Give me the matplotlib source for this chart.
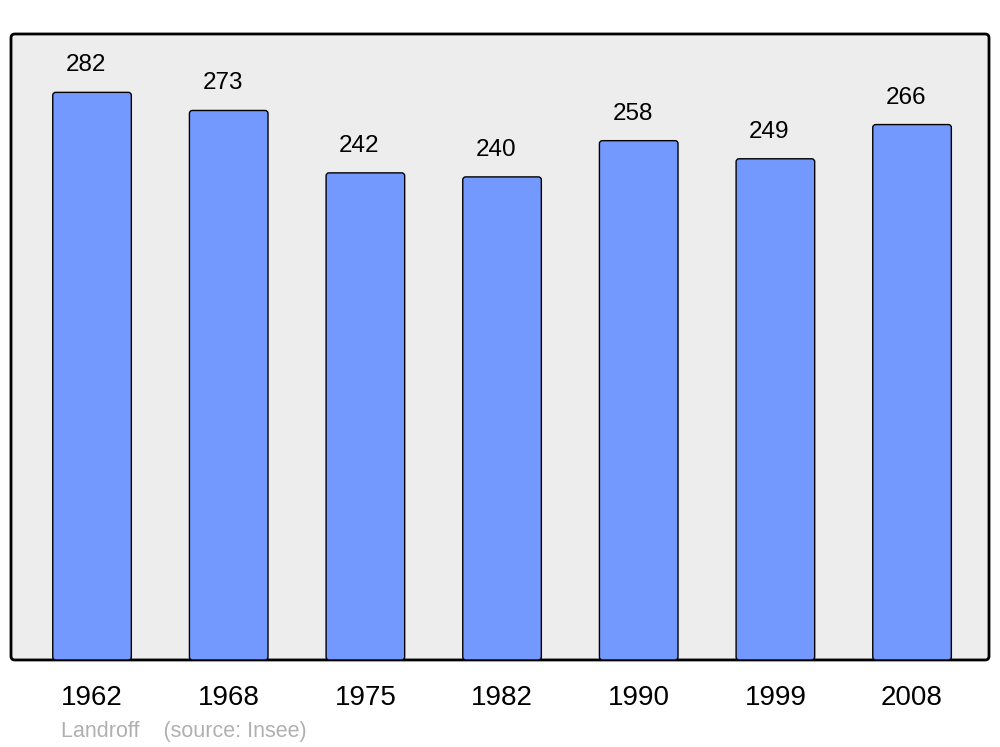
import matplotlib.pyplot as plt
from matplotlib.patches import FancyBboxPatch

plt.rcParams['font.family'] = ['Liberation Sans', 'DejaVu Sans']

years = ['1962', '1968', '1975', '1982', '1990', '1999', '2008']
population = [282, 273, 242, 240, 258, 249, 266]
footer = 'Landroff    (source: Insee)'

fig = plt.figure(figsize=(10, 7.47), dpi=100)
ax = fig.add_axes([0.011, 0.1165, 0.978, 0.838])
ax.set_xlim(-0.593, 6.563)
ax.set_ylim(0, 311)
ax.set_facecolor('none')
for s in ax.spines.values():
    s.set_visible(False)

# rounded background frame
frame = FancyBboxPatch((0, 0), 1, 1, boxstyle='round,pad=0,rounding_size=0.004',
                       mutation_aspect=978 / 626, transform=ax.transAxes,
                       facecolor='#ededed', edgecolor='black', linewidth=2,
                       zorder=0, clip_on=False)
ax.add_patch(frame)

x = range(len(years))
bars = ax.bar(x, population, width=0.575, color='#7399ff', edgecolor='black', linewidth=1)

# swap plain rectangles for slightly rounded ones
px_x = 978 / (6.563 + 0.593)
px_y = 626 / 311
for b in bars:
    b.set_visible(False)
    rb = FancyBboxPatch((b.get_x(), b.get_y()), b.get_width(), b.get_height(),
                        boxstyle='round,pad=0,rounding_size=%f' % (3 / px_x),
                        mutation_aspect=px_x / px_y,
                        facecolor='#7399ff', edgecolor='black', linewidth=1, zorder=2)
    ax.add_patch(rb)

# value labels sit a little left of centre, as in the original
for i, v in enumerate(population):
    ax.annotate(str(v), (i, v), xytext=(-6, 27), textcoords='offset pixels',
                ha='center', va='center', fontsize=17.5)

ax.set_yticks([])
ax.set_xticks(list(x))
ax.set_xticklabels(years, fontsize=20)
ax.tick_params(axis='x', length=0, pad=18)

fig.text(0.061, 0.021, footer, color='#b0b0b0', fontsize=15.5, ha='left', va='center')

fig.savefig('out.png', dpi=100)
